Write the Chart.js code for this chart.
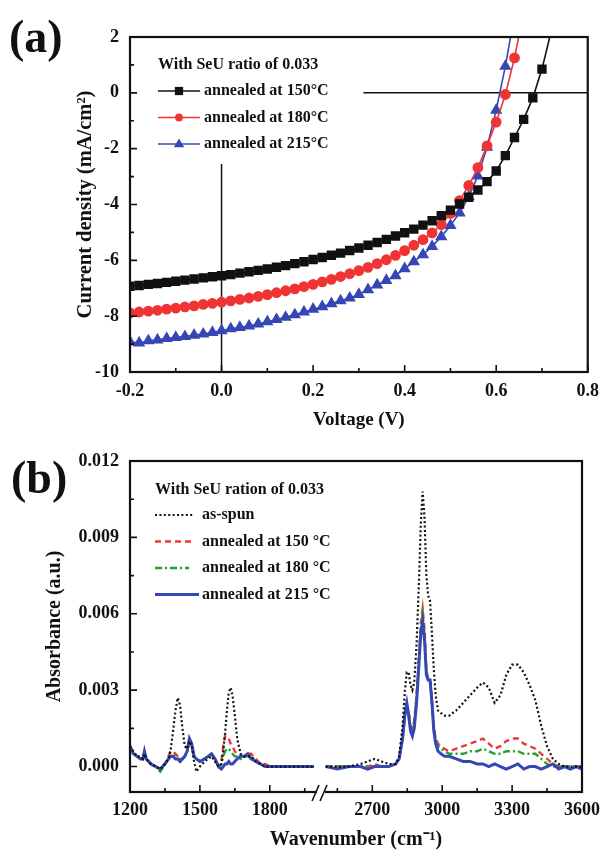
<!DOCTYPE html>
<html>
<head>
<meta charset="utf-8">
<script src="https://cdn.jsdelivr.net/npm/chart.js@4.4.1/dist/chart.umd.min.js"></script>
<style>
  html, body { margin: 0; padding: 0; background: #fff; }
  #page { position: relative; width: 608px; height: 860px; overflow: hidden; }
  canvas { position: absolute; left: 0; }
  #jvChart { top: 0; }
  #ftirChart { top: 430px; }
  .panel-tag { position: absolute; font: bold 46px 'Liberation Serif', serif; line-height: 1; color: #111; }
</style>
</head>
<body>
<div id="page">
  <canvas id="jvChart" width="608" height="430"></canvas>
  <canvas id="ftirChart" width="608" height="430"></canvas>
  <div class="panel-tag" style="left:9px; top:14px;">(a)</div>
  <div class="panel-tag" style="left:11px; top:455px;">(b)</div>
</div>
<script>
// ---------- (a) J-V curves ----------
const voltage = [-0.20, -0.18, -0.16, -0.14, -0.12, -0.10, -0.08, -0.06, -0.04, -0.02,
  0.00, 0.02, 0.04, 0.06, 0.08, 0.10, 0.12, 0.14, 0.16, 0.18,
  0.20, 0.22, 0.24, 0.26, 0.28, 0.30, 0.32, 0.34, 0.36, 0.38,
  0.40, 0.42, 0.44, 0.46, 0.48, 0.50, 0.52, 0.54, 0.56, 0.58,
  0.60, 0.62, 0.64, 0.66, 0.68, 0.70, 0.72];
const jv150 = [-6.93, -6.90, -6.86, -6.83, -6.79, -6.75, -6.71, -6.67, -6.63, -6.59,
  -6.55, -6.51, -6.46, -6.41, -6.36, -6.31, -6.25, -6.19, -6.12, -6.05,
  -5.97, -5.90, -5.82, -5.74, -5.65, -5.56, -5.46, -5.36, -5.25, -5.13,
  -5.01, -4.88, -4.74, -4.58, -4.40, -4.20, -3.98, -3.74, -3.48, -3.18,
  -2.80, -2.25, -1.60, -0.95, -0.18, 0.85, 2.20];
const jv180 = [-7.88, -7.85, -7.82, -7.79, -7.75, -7.71, -7.67, -7.63, -7.58, -7.54,
  -7.50, -7.45, -7.40, -7.35, -7.29, -7.23, -7.16, -7.09, -7.02, -6.94,
  -6.86, -6.77, -6.68, -6.58, -6.48, -6.37, -6.25, -6.12, -5.98, -5.82,
  -5.65, -5.46, -5.26, -5.02, -4.72, -4.32, -3.86, -3.32, -2.68, -1.90,
  -1.05, -0.06, 1.25, 2.90];
const jv215 = [-8.92, -8.96, -8.88, -8.85, -8.80, -8.76, -8.73, -8.68, -8.64, -8.58,
  -8.52, -8.45, -8.40, -8.35, -8.28, -8.20, -8.12, -8.04, -7.95, -7.85,
  -7.75, -7.66, -7.55, -7.45, -7.35, -7.22, -7.05, -6.88, -6.72, -6.55,
  -6.30, -6.05, -5.80, -5.50, -5.15, -4.75, -4.30, -3.72, -2.98, -1.95,
  -0.62, 0.95, 2.80];
// guide lines drawn in the J-V panel
const zeroLineV = [0.31, 0.80];
const zeroLineJ = [0, 0];
const vLineV = [0, 0];
const vLineJ = [-10, -2.55];

const jvXMajor = [-0.2, 0, 0.2, 0.4, 0.6, 0.8];
const jvXMinor = [-0.1, 0.1, 0.3, 0.5, 0.7];
const jvYMajor = [-10, -8, -6, -4, -2, 0, 2];
const jvYMinor = [-9, -7, -5, -3, -1, 1];

// ---------- (b) FTIR spectra ----------
const wnLeft = [1200, 1215, 1230, 1245, 1255, 1262, 1270, 1290, 1310, 1330,
  1350, 1365, 1375, 1385, 1395, 1405, 1415, 1425, 1435, 1445,
  1455, 1465, 1475, 1485, 1500, 1520, 1535, 1550, 1565, 1580,
  1592, 1600, 1608, 1616, 1624, 1632, 1640, 1650, 1660, 1675,
  1690, 1705, 1720, 1740, 1760, 1780, 1800, 1850, 1900, 1950, 1990];
const asSpunLeft = [0.0008, 0.0006, 0.0004, 0.0004, 0.0003, 0.0005, 0.0003, 0.0001, 0.0000, -0.0001,
  0.0001, 0.0003, 0.0007, 0.0014, 0.0022, 0.0027, 0.0024, 0.0015, 0.0008, 0.0007,
  0.0010, 0.0008, 0.0002, -0.0002, 0.0000, 0.0002, 0.0003, 0.0004, 0.0002, 0.0000,
  0.0001, 0.0006, 0.0013, 0.0022, 0.0029, 0.0031, 0.0028, 0.0020, 0.0011, 0.0005,
  0.0004, 0.0004, 0.0004, 0.0002, 0.0001, 0.0000, 0.0000, 0.0000, 0.0000, 0.0000, 0.0000];
const ann150Left = [0.0007, 0.0005, 0.0004, 0.0003, 0.0003, 0.0005, 0.0003, 0.0001, 0.0000, -0.0001,
  0.0001, 0.0004, 0.0006, 0.0006, 0.0005, 0.0004, 0.0003, 0.0003, 0.0004, 0.0006,
  0.0010, 0.0008, 0.0004, 0.0003, 0.0002, 0.0003, 0.0004, 0.0005, 0.0003, 0.0000,
  0.0002, 0.0008, 0.0012, 0.0012, 0.0011, 0.0009, 0.0008, 0.0006, 0.0005, 0.0004,
  0.0004, 0.0005, 0.0005, 0.0003, 0.0001, 0.0001, 0.0000, 0.0000, 0.0000, 0.0000, 0.0000];
const ann180Left = [0.0007, 0.0005, 0.0004, 0.0003, 0.0003, 0.0005, 0.0003, 0.0001, 0.0000, -0.0002,
  0.0001, 0.0003, 0.0004, 0.0005, 0.0004, 0.0003, 0.0003, 0.0003, 0.0004, 0.0006,
  0.0010, 0.0008, 0.0004, 0.0003, 0.0002, 0.0003, 0.0004, 0.0005, 0.0003, 0.0000,
  0.0001, 0.0004, 0.0006, 0.0007, 0.0007, 0.0006, 0.0005, 0.0004, 0.0004, 0.0003,
  0.0004, 0.0004, 0.0004, 0.0002, 0.0001, 0.0000, 0.0000, 0.0000, 0.0000, 0.0000, 0.0000];
const ann215Left = [0.0008, 0.0005, 0.0004, 0.0003, 0.0003, 0.0006, 0.0003, 0.0001, 0.0000, -0.0001,
  0.0001, 0.0003, 0.0004, 0.0004, 0.0003, 0.0003, 0.0002, 0.0003, 0.0004, 0.0006,
  0.0011, 0.0009, 0.0004, 0.0003, 0.0002, 0.0003, 0.0004, 0.0005, 0.0003, 0.0000,
  -0.0001, 0.0000, 0.0001, 0.0001, 0.0002, 0.0001, 0.0001, 0.0002, 0.0003, 0.0004,
  0.0004, 0.0005, 0.0003, 0.0002, 0.0001, 0.0000, 0.0000, 0.0000, 0.0000, 0.0000, 0.0000];

const wnRight = [2500, 2550, 2600, 2650, 2680, 2710, 2740, 2770, 2800, 2815,
  2830, 2840, 2848, 2856, 2864, 2872, 2880, 2890, 2900, 2908,
  2916, 2924, 2932, 2940, 2948, 2956, 2964, 2972, 2982, 2995,
  3010, 3030, 3060, 3090, 3120, 3150, 3175, 3200, 3225, 3250,
  3275, 3300, 3325, 3350, 3375, 3400, 3425, 3450, 3475, 3500,
  3525, 3550, 3575, 3600];
const asSpunRight = [0.0000, 0.0000, 0.0000, 0.0001, 0.0002, 0.0003, 0.0002, 0.0001, 0.0001, 0.0004,
  0.0016, 0.0030, 0.0037, 0.0037, 0.0032, 0.0030, 0.0033, 0.0048, 0.0072, 0.0095,
  0.0108, 0.0098, 0.0075, 0.0067, 0.0065, 0.0052, 0.0038, 0.0028, 0.0022, 0.0021,
  0.0020, 0.0020, 0.0022, 0.0025, 0.0028, 0.0031, 0.0033, 0.0031, 0.0025, 0.0028,
  0.0036, 0.0040, 0.0040, 0.0037, 0.0032, 0.0026, 0.0016, 0.0008, 0.0003, 0.0001,
  0.0000, 0.0000, 0.0000, 0.0000];
const ann150Right = [0.0000, 0.0000, 0.0000, 0.0000, 0.0000, 0.0001, 0.0000, 0.0000, 0.0001, 0.0003,
  0.0011, 0.0020, 0.0024, 0.0022, 0.0016, 0.0015, 0.0018, 0.0028, 0.0043, 0.0056,
  0.0062, 0.0054, 0.0038, 0.0034, 0.0034, 0.0026, 0.0016, 0.0011, 0.0009, 0.0008,
  0.0007, 0.0006, 0.0007, 0.0008, 0.0009, 0.0010, 0.0011, 0.0009, 0.0007, 0.0008,
  0.0010, 0.0011, 0.0011, 0.0009, 0.0008, 0.0007, 0.0005, 0.0003, 0.0001, 0.0000,
  0.0000, 0.0000, 0.0000, 0.0000];
const ann180Right = [0.0000, 0.0000, 0.0000, 0.0000, 0.0000, 0.0000, 0.0000, 0.0000, 0.0001, 0.0003,
  0.0011, 0.0020, 0.0024, 0.0021, 0.0015, 0.0014, 0.0017, 0.0027, 0.0042, 0.0054,
  0.0060, 0.0052, 0.0037, 0.0034, 0.0034, 0.0025, 0.0015, 0.0010, 0.0008, 0.0007,
  0.0006, 0.0005, 0.0005, 0.0005, 0.0006, 0.0006, 0.0007, 0.0006, 0.0005, 0.0005,
  0.0006, 0.0006, 0.0006, 0.0005, 0.0005, 0.0005, 0.0003, 0.0001, 0.0000, 0.0000,
  0.0000, 0.0000, 0.0000, 0.0000];
const ann215Right = [0.0000, -0.0001, 0.0000, 0.0000, -0.0001, 0.0000, 0.0000, 0.0000, 0.0001, 0.0003,
  0.0011, 0.0021, 0.0025, 0.0020, 0.0014, 0.0012, 0.0015, 0.0025, 0.0040, 0.0052,
  0.0057, 0.0050, 0.0036, 0.0034, 0.0034, 0.0025, 0.0014, 0.0009, 0.0006, 0.0005,
  0.0004, 0.0004, 0.0003, 0.0002, 0.0002, 0.0001, 0.0001, 0.0000, 0.0001, 0.0000,
  -0.0001, 0.0000, 0.0001, -0.0001, 0.0000, 0.0000, -0.0001, 0.0000, 0.0001, -0.0001,
  0.0000, -0.0001, 0.0000, -0.0001];

const wnMajor = [1200, 1500, 1800, 2700, 3000, 3300, 3600];
const wnMinor = [1350, 1650, 1950, 2550, 2850, 3150, 3450];
const absMajor = [0, 0.003, 0.006, 0.009, 0.012];
const absMinor = [0.0015, 0.0045, 0.0075, 0.0105];

// broken wavenumber axis: 2000..2500 is cut out and replaced by a small gap
const BREAK_LOW = 2000, BREAK_HIGH = 2500, BREAK_GAP = 40;
function toAxis(w) { return w <= BREAK_LOW ? w : w - (BREAK_HIGH - BREAK_LOW) + BREAK_GAP; }
function fromAxis(v) { return v <= BREAK_LOW ? v : v + (BREAK_HIGH - BREAK_LOW) - BREAK_GAP; }

const serif = "'Liberation Serif', 'Times New Roman', serif";
const ink = '#111111';

// frame box + inward tick marks (+ optional axis break)
const framePlugin = {
  id: 'frame',
  afterDatasetsDraw(chart, args, opts) {
    const { ctx, chartArea: a } = chart;
    const xs = chart.scales.x, ys = chart.scales.y;
    ctx.save();
    ctx.strokeStyle = ink;
    ctx.lineWidth = 1.6;
    ctx.beginPath();
    opts.xMajor.forEach(v => { const p = xs.getPixelForValue(v); ctx.moveTo(p, a.bottom); ctx.lineTo(p, a.bottom - 7); });
    opts.xMinor.forEach(v => { const p = xs.getPixelForValue(v); ctx.moveTo(p, a.bottom); ctx.lineTo(p, a.bottom - 4); });
    opts.yMajor.forEach(v => { const p = ys.getPixelForValue(v); ctx.moveTo(a.left, p); ctx.lineTo(a.left + 7, p); });
    opts.yMinor.forEach(v => { const p = ys.getPixelForValue(v); ctx.moveTo(a.left, p); ctx.lineTo(a.left + 4, p); });
    ctx.stroke();
    ctx.lineWidth = 2.2;
    ctx.strokeRect(a.left, a.top, a.right - a.left, a.bottom - a.top);
    if (opts.breakAt !== undefined) {
      const bx = xs.getPixelForValue(opts.breakAt);
      const by = a.bottom;
      ctx.fillStyle = '#fff';
      ctx.fillRect(bx - 4, by - 2, 8, 4);
      ctx.lineWidth = 1.6;
      ctx.beginPath();
      ctx.moveTo(bx - 9, by + 9); ctx.lineTo(bx - 2, by - 7);
      ctx.moveTo(bx - 1, by + 9); ctx.lineTo(bx + 6, by - 7);
      ctx.stroke();
    }
    ctx.restore();
  }
};

function drawMarker(ctx, style, x, y, r) {
  ctx.beginPath();
  if (style === 'rect') {
    ctx.rect(x - r * 0.75, y - r * 0.75, r * 1.5, r * 1.5);
  } else if (style === 'circle') {
    ctx.arc(x, y, r * 0.85, 0, Math.PI * 2);
  } else if (style === 'triangle') {
    ctx.moveTo(x, y - r);
    ctx.lineTo(x + r * 0.95, y + r * 0.6);
    ctx.lineTo(x - r * 0.95, y + r * 0.6);
    ctx.closePath();
  }
  ctx.fill();
}

// legend inside the plot, line sample (+ marker) then label
const boxLegend = {
  id: 'boxLegend',
  afterDraw(chart, args, opts) {
    const ctx = chart.ctx;
    ctx.save();
    ctx.font = 'bold 16px ' + serif;
    ctx.fillStyle = ink;
    ctx.textBaseline = 'middle';
    ctx.fillText(opts.title, opts.x, opts.y);
    let y = opts.y + opts.firstGap;
    chart.data.datasets.forEach(ds => {
      if (!ds.label) return;
      ctx.save();
      ctx.strokeStyle = ds.borderColor;
      ctx.lineWidth = ds.borderWidth;
      ctx.setLineDash(ds.borderDash || []);
      ctx.beginPath();
      ctx.moveTo(opts.x, y);
      ctx.lineTo(opts.x + (ds.legendLen || opts.sampleWidth), y);
      ctx.stroke();
      if (ds.pointRadius > 0) {
        ctx.fillStyle = ds.pointBackgroundColor;
        drawMarker(ctx, ds.pointStyle, opts.x + opts.sampleWidth / 2, y, ds.pointRadius);
      }
      ctx.restore();
      ctx.fillStyle = ink;
      ctx.fillText(ds.label, opts.x + opts.textOffset, y);
      y += opts.rowHeight;
    });
    ctx.restore();
  }
};

const tickFont = { family: serif, size: 18, weight: 'bold' };

function jvSeries(values) {
  return values.map((j, i) => ({ x: voltage[i], y: j }));
}
function pairs(xs, ys) {
  return xs.map((x, i) => ({ x: x, y: ys[i] }));
}

new Chart(document.getElementById('jvChart'), {
  type: 'line',
  data: {
    datasets: [
      { label: 'annealed at 150°C', data: jvSeries(jv150), borderColor: '#111111', pointBackgroundColor: '#111111',
        pointBorderColor: '#111111', pointStyle: 'rect', pointRadius: 5.5, borderWidth: 1.6 },
      { label: 'annealed at 180°C', data: jvSeries(jv180), borderColor: '#f03434', pointBackgroundColor: '#f03434',
        pointBorderColor: '#f03434', pointStyle: 'circle', pointRadius: 4.6, borderWidth: 1.6 },
      { label: 'annealed at 215°C', data: jvSeries(jv215), borderColor: '#3547b5', pointBackgroundColor: '#3547b5',
        pointBorderColor: '#3547b5', pointStyle: 'triangle', pointRadius: 5.5, borderWidth: 1.6 },
      { data: pairs(zeroLineV, zeroLineJ), borderColor: ink, borderWidth: 1.5, pointRadius: 0 },
      { data: pairs(vLineV, vLineJ), borderColor: ink, borderWidth: 1.5, pointRadius: 0 }
    ]
  },
  options: {
    responsive: false,
    animation: false,
    devicePixelRatio: 1,
    layout: { padding: { left: 0, right: 20, top: 37, bottom: 0 } },
    plugins: {
      legend: { display: false },
      tooltip: { enabled: false },
      frame: { xMajor: jvXMajor, xMinor: jvXMinor, yMajor: jvYMajor, yMinor: jvYMinor },
      boxLegend: { title: 'With SeU ratio of 0.033', x: 158, y: 65, firstGap: 26, rowHeight: 26.5,
        sampleWidth: 42, textOffset: 46 }
    },
    scales: {
      x: {
        type: 'linear', min: -0.2, max: 0.8,
        afterFit: s => { s.height = 58; },
        afterBuildTicks: s => { s.ticks = jvXMajor.map(v => ({ value: v })); },
        grid: { display: false, drawTicks: false },
        border: { display: false },
        ticks: { font: tickFont, color: ink, padding: 9, maxRotation: 0, autoSkip: false,
          callback: v => (Math.round(v * 10) / 10).toFixed(1) },
        title: { display: true, text: 'Voltage (V)', color: ink,
          font: { family: serif, size: 19, weight: 'bold', lineHeight: 1 }, padding: { top: 0, bottom: 0 } }
      },
      y: {
        type: 'linear', min: -10, max: 2,
        afterFit: s => { s.width = 130; },
        afterBuildTicks: s => { s.ticks = jvYMajor.map(v => ({ value: v })); },
        grid: { display: false, drawTicks: false },
        border: { display: false },
        ticks: { font: tickFont, color: ink, padding: 11 },
        title: { display: true, text: 'Current density (mA/cm²)', color: ink,
          font: { family: serif, size: 20.5, weight: 'bold', lineHeight: 1.2 }, padding: { top: 73, bottom: 0 } }
      }
    }
  },
  plugins: [framePlugin, boxLegend]
});

function spectrum(left, right) {
  const pts = pairs(wnLeft.map(toAxis), left);
  pts.push({ x: toAxis(BREAK_LOW) + BREAK_GAP / 2, y: null });
  return pts.concat(pairs(wnRight.map(toAxis), right));
}

new Chart(document.getElementById('ftirChart'), {
  type: 'line',
  data: {
    datasets: [
      { label: 'as-spun', data: spectrum(asSpunLeft, asSpunRight), borderColor: '#111111',
        borderDash: [2, 2.4], borderWidth: 2.2, pointRadius: 0, order: 0, legendLen: 38 },
      { label: 'annealed at 150 °C', data: spectrum(ann150Left, ann150Right), borderColor: '#f03838',
        borderDash: [6, 4], borderWidth: 2.4, pointRadius: 0, order: 3, legendLen: 38 },
      { label: 'annealed at 180 °C', data: spectrum(ann180Left, ann180Right), borderColor: '#1fa32e',
        borderDash: [7, 3, 2, 3], borderWidth: 2.4, pointRadius: 0, order: 2, legendLen: 34 },
      { label: 'annealed at 215 °C', data: spectrum(ann215Left, ann215Right), borderColor: '#3547b5',
        borderWidth: 3, pointRadius: 0, order: 1, legendLen: 44 }
    ]
  },
  options: {
    responsive: false,
    animation: false,
    devicePixelRatio: 1,
    spanGaps: false,
    layout: { padding: { left: 0, right: 20, top: 31, bottom: 0 } },
    plugins: {
      legend: { display: false },
      tooltip: { enabled: false },
      frame: { xMajor: wnMajor.map(toAxis), xMinor: wnMinor.map(toAxis), yMajor: absMajor, yMinor: absMinor,
        breakAt: toAxis(BREAK_LOW) + BREAK_GAP / 2 },
      boxLegend: { title: 'With SeU ration of 0.033', x: 155, y: 60, firstGap: 25, rowHeight: 26.5,
        sampleWidth: 42, textOffset: 47 }
    },
    scales: {
      x: {
        type: 'linear', min: toAxis(1200), max: toAxis(3600),
        afterFit: s => { s.height = 68; },
        afterBuildTicks: s => { s.ticks = wnMajor.map(w => ({ value: toAxis(w) })); },
        grid: { display: false, drawTicks: false },
        border: { display: false },
        ticks: { font: tickFont, color: ink, padding: 8, maxRotation: 0, autoSkip: false,
          callback: v => String(Math.round(fromAxis(v))) },
        title: { display: true, text: 'Wavenumber (cm⁻¹)', color: ink,
          font: { family: serif, size: 20, weight: 'bold', lineHeight: 1.2 }, padding: { top: 0, bottom: 8 } }
      },
      y: {
        type: 'linear', min: -0.001, max: 0.012,
        afterFit: s => { s.width = 130; },
        afterBuildTicks: s => { s.ticks = absMajor.map(v => ({ value: v })); },
        grid: { display: false, drawTicks: false },
        border: { display: false },
        ticks: { font: tickFont, color: ink, padding: 11, callback: v => v.toFixed(3) },
        title: { display: true, text: 'Absorbance (a.u.)', color: ink,
          font: { family: serif, size: 20, weight: 'bold', lineHeight: 1.2 }, padding: { top: 43, bottom: 0 } }
      }
    }
  },
  plugins: [framePlugin, boxLegend]
});
</script>
</body>
</html>
